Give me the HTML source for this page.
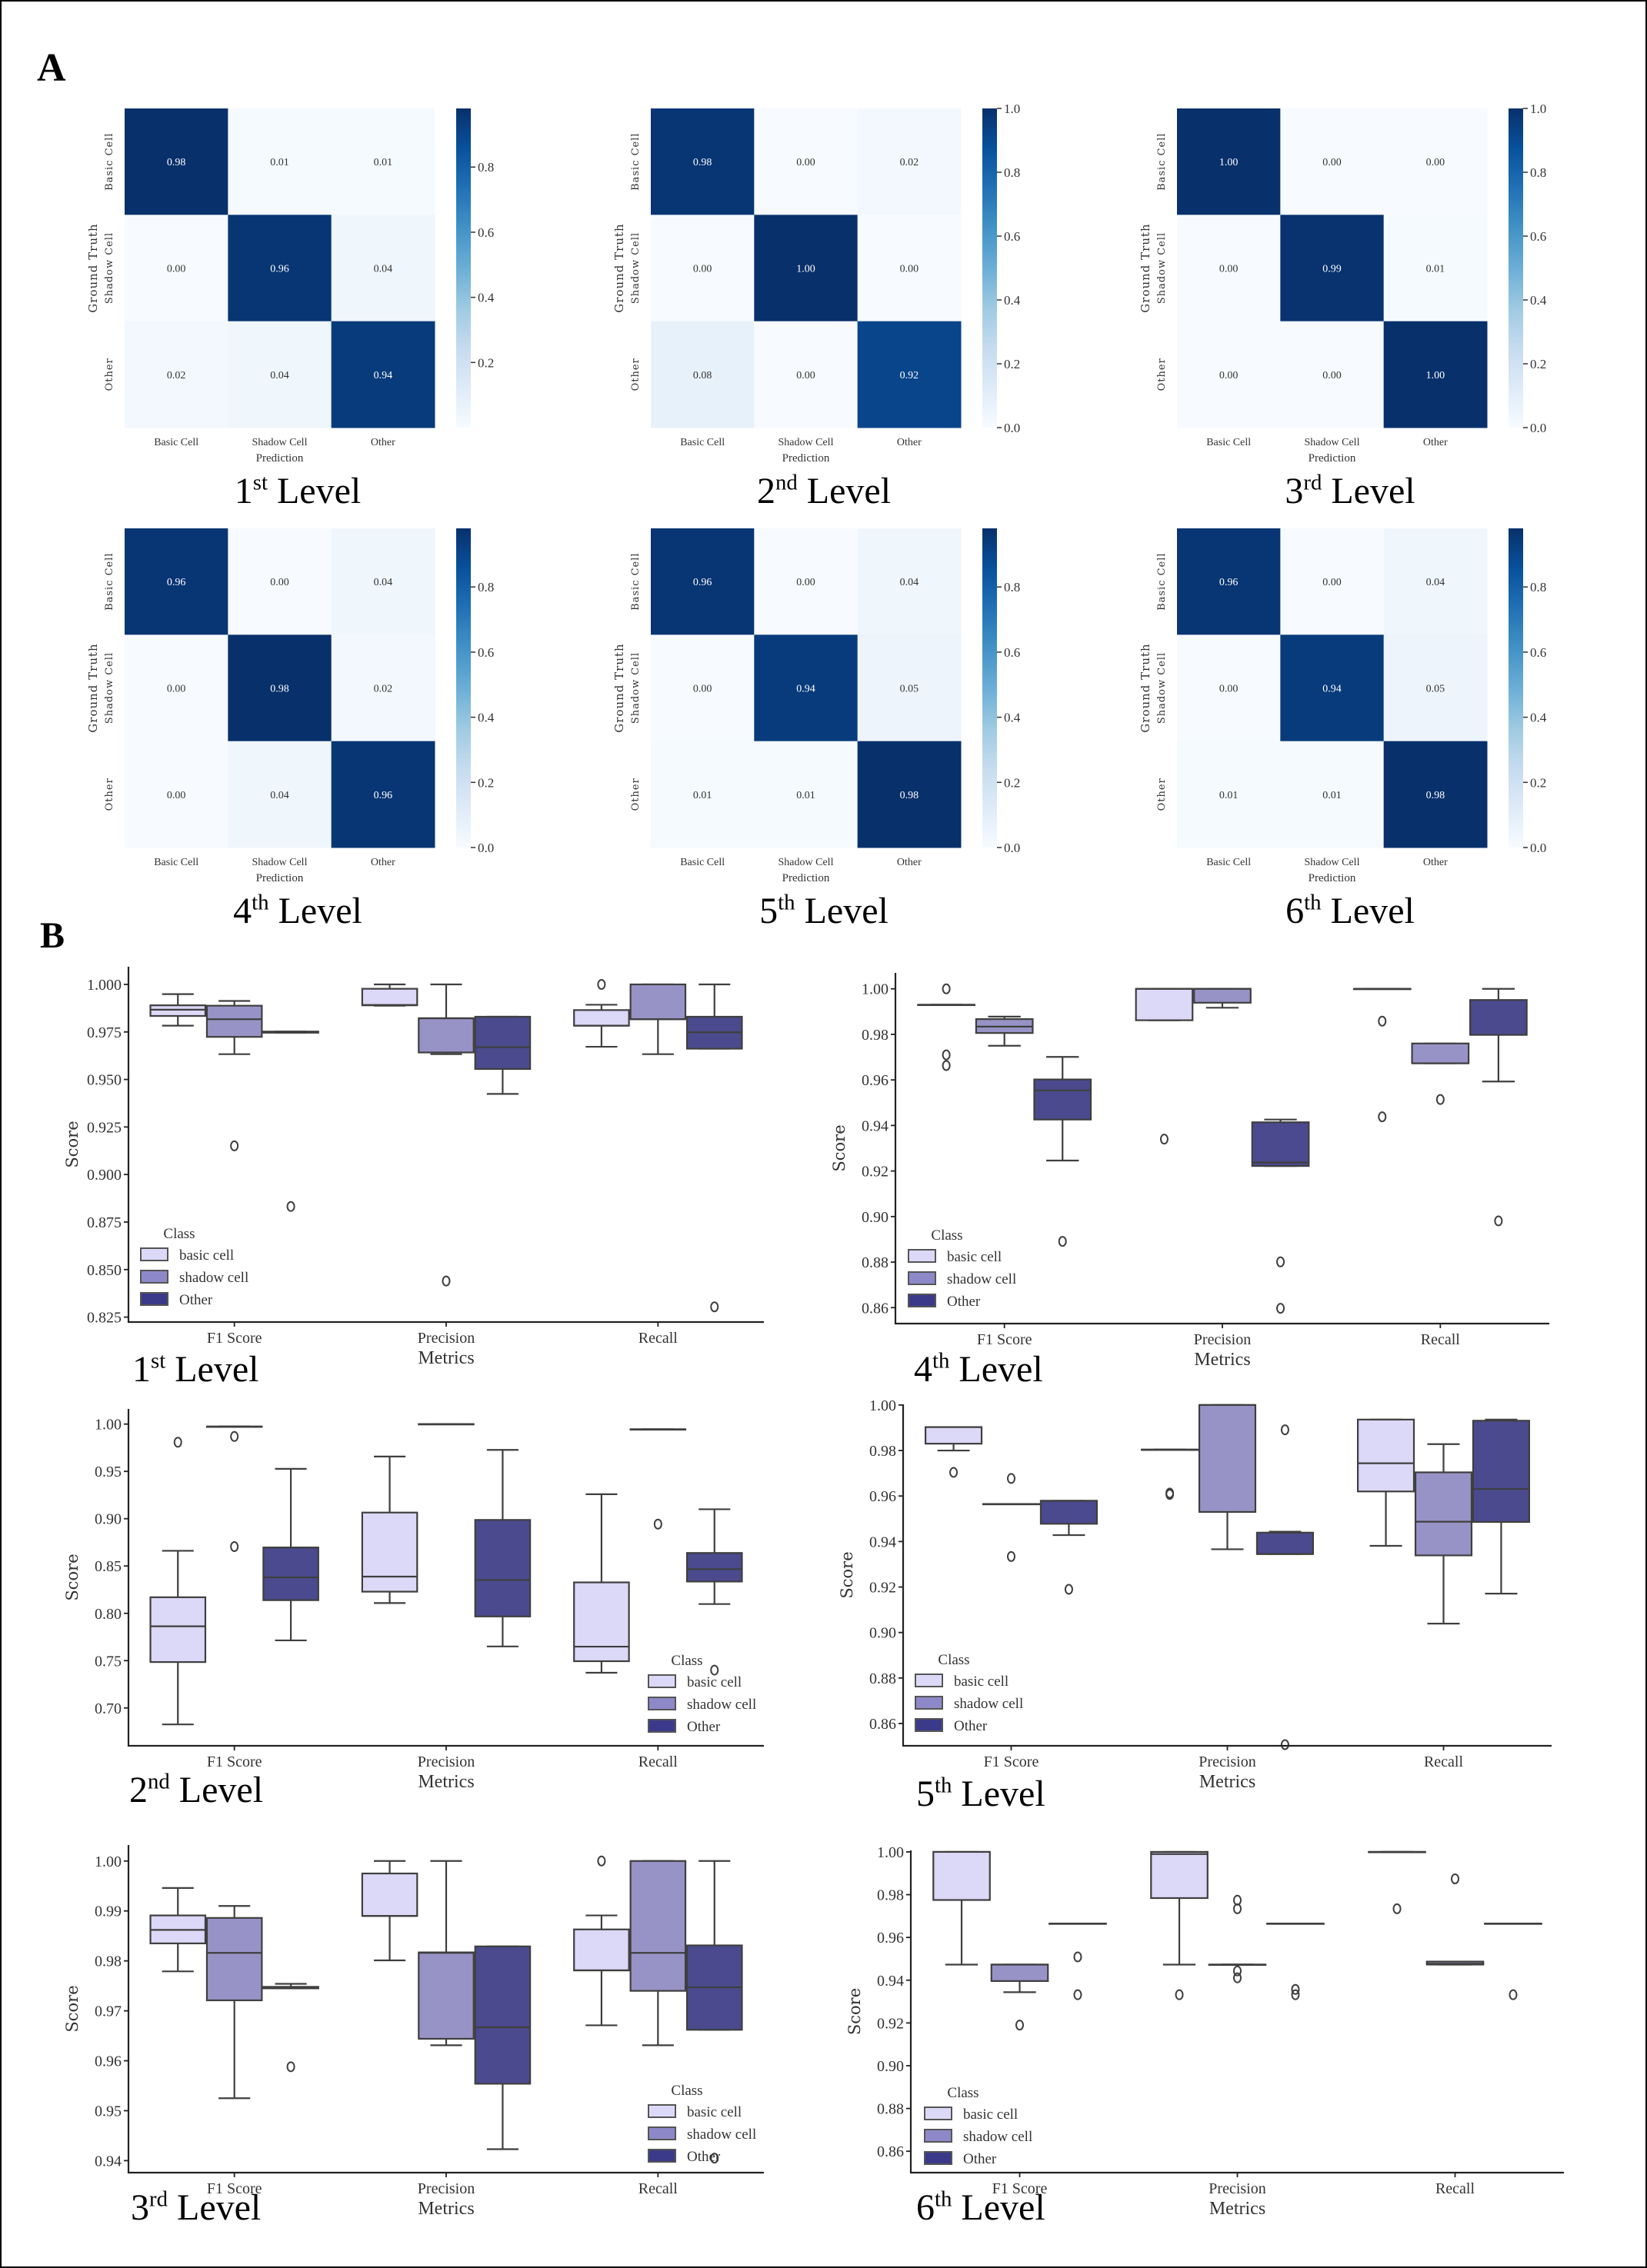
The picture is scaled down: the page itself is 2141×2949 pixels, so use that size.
<!DOCTYPE html>
<html><head><meta charset="utf-8"><style>
html,body{margin:0;padding:0;background:#fff;}
svg{display:block;}
text{font-family:"Liberation Serif",serif;}
</style></head><body>
<svg id="fig" xmlns="http://www.w3.org/2000/svg" width="2141" height="2949" viewBox="0 0 2141 2949">
<defs>
<linearGradient id="bluesGrad" x1="0" y1="1" x2="0" y2="0">
<stop offset="0" stop-color="#f7fbff"/><stop offset="0.125" stop-color="#deebf7"/><stop offset="0.25" stop-color="#c6dbef"/><stop offset="0.375" stop-color="#9ecae1"/><stop offset="0.5" stop-color="#6baed6"/><stop offset="0.625" stop-color="#4292c6"/><stop offset="0.75" stop-color="#2171b5"/><stop offset="0.875" stop-color="#08519c"/><stop offset="1" stop-color="#08306b"/>
</linearGradient>
</defs>
<rect x="1" y="1" width="2139" height="2947" fill="#fff" stroke="#000" stroke-width="2"/>
<text x="48" y="105" font-size="52" font-weight="bold">A</text>
<text x="52" y="1232" font-size="48" font-weight="bold">B</text>
<g id="heatmaps"></g>
<g id="boxplots"></g>
</svg>
<script>
// ---------- Heatmap data ----------
const hmClasses = ["Basic Cell", "Shadow Cell", "Other"];
const hm1Values = [[0.98,0.01,0.01],[0.00,0.96,0.04],[0.02,0.04,0.94]];
const hm2Values = [[0.98,0.00,0.02],[0.00,1.00,0.00],[0.08,0.00,0.92]];
const hm3Values = [[1.00,0.00,0.00],[0.00,0.99,0.01],[0.00,0.00,1.00]];
const hm4Values = [[0.96,0.00,0.04],[0.00,0.98,0.02],[0.00,0.04,0.96]];
const hm5Values = [[0.96,0.00,0.04],[0.00,0.94,0.05],[0.01,0.01,0.98]];
const hm6Values = [[0.96,0.00,0.04],[0.00,0.94,0.05],[0.01,0.01,0.98]];
const hmRanges = [[0,0.98],[0,1],[0,1],[0,0.98],[0,0.98],[0,0.98]];
const hmTicksA = [0.2,0.4,0.6,0.8];
const hmTicksB = [0.0,0.2,0.4,0.6,0.8,1.0];
const hmTicksC = [0.0,0.2,0.4,0.6,0.8];
const hmOrdinals = ["st","nd","rd","th","th","th"];

// ---------- Box plot data: [whislo, q1, median, q3, whishi] ----------
const metricNames = ["F1 Score","Precision","Recall"];
const classNames = ["basic cell","shadow cell","Other"];
const lvl1Stats = [[0.9783,0.9834,0.9867,0.989,0.9949],[0.9633,0.9724,0.9817,0.9888,0.9913],[0.9746,0.9746,0.9749,0.9752,0.9752],
 [0.9888,0.989,0.9892,0.9977,1.0],[0.9633,0.9642,0.9822,0.9822,1.0],[0.9424,0.9555,0.967,0.983,0.983],
 [0.9672,0.9783,0.9783,0.9865,0.9893],[0.9633,0.9817,0.9817,1.0,1.0],[0.9662,0.9662,0.9748,0.983,1.0]];
const lvl1Out = [[],[0.9151],[0.8832],[],[0.844],[],[1.0],[],[0.8304]];
const lvl2Stats = [[0.6826,0.7485,0.7863,0.817,0.8661],[0.9974,0.9974,0.9974,0.9974,0.9974],[0.7714,0.8139,0.838,0.8696,0.9527],
 [0.8109,0.8229,0.8388,0.9065,0.9657],[1,1,1,1,1],[0.765,0.7967,0.8353,0.8987,0.9727],
 [0.7372,0.7494,0.7648,0.8327,0.9259],[0.9945,0.9945,0.9945,0.9945,0.9945],[0.8098,0.8336,0.8467,0.8638,0.91]];
const lvl2Out = [[0.9808],[0.9869,0.8705],[],[],[],[],[],[0.8943],[0.74]];
const lvl3Stats = [[0.9779,0.9835,0.9862,0.9891,0.9946],[0.9525,0.9721,0.9816,0.9886,0.991],[0.9745,0.9745,0.9747,0.9748,0.9754],
 [0.9801,0.989,0.989,0.9975,1.0],[0.9631,0.9644,0.9816,0.9817,1.0],[0.9423,0.9554,0.9667,0.9829,0.9829],
 [0.9671,0.9781,0.9781,0.9863,0.9891],[0.9631,0.974,0.9816,1.0,1.0],[0.9662,0.9662,0.9747,0.9831,1.0]];
const lvl3Out = [[],[],[0.9588],[],[],[],[1.0],[],[0.9405]];
const lvl4Stats = [[0.993,0.993,0.993,0.993,0.993],[0.975,0.9806,0.9834,0.9867,0.9878],[0.9246,0.9426,0.9554,0.9602,0.9701],
 [0.9862,0.9862,1.0,1.0,1.0],[0.9917,0.9939,1.0,1.0,1.0],[0.9222,0.9222,0.9237,0.9414,0.9426],
 [1,1,1,1,1],[0.9673,0.9673,0.9673,0.976,0.976],[0.9593,0.9798,0.9798,0.9951,1.0]];
const lvl4Out = [[1.0,0.971,0.9663],[],[0.8891],[0.934],[],[0.8801,0.8597],[0.9858,0.9438],[0.9514],[0.8981]];
const lvl5Stats = [[0.98,0.983,0.9903,0.9903,0.9903],[0.9565,0.9565,0.9565,0.9565,0.9565],[0.9428,0.9478,0.9579,0.9579,0.9579],
 [0.9804,0.9804,0.9804,0.9804,0.9804],[0.9366,0.953,1.0,1.0,1.0],[0.9345,0.9345,0.9345,0.9439,0.9443],
 [0.9381,0.962,0.9744,0.9936,0.9936],[0.9039,0.9339,0.9487,0.9704,0.9828],[0.9171,0.9486,0.9631,0.9931,0.9936]];
const lvl5Out = [[0.9704],[0.9677,0.9334],[0.919],[0.9613,0.9607],[],[0.9891,0.8507],[],[],[]];
const lvl6Stats = [[0.9473,0.9775,1.0,1.0,1.0],[0.9344,0.9396,0.9473,0.9473,0.9473],[0.9665,0.9665,0.9665,0.9665,0.9665],
 [0.9473,0.9784,0.999,1.0,1.0],[0.9473,0.9473,0.9473,0.9473,0.9473],[0.9665,0.9665,0.9665,0.9665,0.9665],
 [1,1,1,1,1],[0.9473,0.9473,0.9477,0.9487,0.9487],[0.9665,0.9665,0.9665,0.9665,0.9665]];
const lvl6Out = [[],[0.919],[0.9509,0.9332],[0.9332],[0.9774,0.9734,0.9443,0.9411],[0.9357,0.9332],[0.9734],[0.9874],[0.9332]];
const ticks025 = [0.825,0.850,0.875,0.900,0.925,0.950,0.975,1.000];
const ticks05 = [0.70,0.75,0.80,0.85,0.90,0.95,1.00];
const ticks01 = [0.94,0.95,0.96,0.97,0.98,0.99,1.00];
const ticks02 = [0.86,0.88,0.90,0.92,0.94,0.96,0.98,1.00];

const NS = "http://www.w3.org/2000/svg";
function mk(tag, attrs, parent){ const e=document.createElementNS(NS,tag); for(const k in attrs) e.setAttribute(k,attrs[k]); parent.appendChild(e); return e; }
const blues = ["#f7fbff","#deebf7","#c6dbef","#9ecae1","#6baed6","#4292c6","#2171b5","#08519c","#08306b"];
function hex(c){ return [1,3,5].map(i=>parseInt(c.substr(i,2),16)); }
function bluesAt(t){ t=Math.max(0,Math.min(1,t)); const p=t*8, i=Math.min(7,Math.floor(p)), f=p-i; const a=hex(blues[i]), b=hex(blues[i+1]); return "rgb("+a.map((v,k)=>Math.round(v+(b[k]-v)*f)).join(",")+")"; }

function titleText(parent, x, y, num, ord, size, anchor){
  const t = mk("text",{x:x,y:y,"font-size":size,"text-anchor":anchor,fill:"#000"},parent);
  const a = mk("tspan",{},t); a.textContent = num;
  const b = mk("tspan",{"font-size":size*0.6,dy:-size*0.36},t); b.textContent = ord;
  const c = mk("tspan",{dy:size*0.36},t); c.textContent = " Level";
  return t;
}

// ---------- Heatmaps ----------
const hmAll = [hm1Values,hm2Values,hm3Values,hm4Values,hm5Values,hm6Values];
const hmTickSets = [hmTicksA,hmTicksB,hmTicksB,hmTicksC,hmTicksC,hmTicksC];
const hmCols = [162,846,1530], hmRows = [141,687];
const HW = 403, HH = 415;
const hg = document.getElementById("heatmaps");
hmAll.forEach((vals, idx)=>{
  const x0 = hmCols[idx%3], y0 = hmRows[Math.floor(idx/3)];
  const [vmin,vmax] = hmRanges[idx];
  const g = mk("g",{},hg);
  
  
  const cw = HW/3, ch = HH/3;
  for(let r=0;r<3;r++) for(let c=0;c<3;c++){
    const v = vals[r][c], t=(v-vmin)/(vmax-vmin);
    const cell = mk("rect",{x:x0+c*cw,y:y0+r*ch,width:cw+0.5,height:ch+0.5,fill:bluesAt(t)},g);
    
    
    const tx = mk("text",{x:x0+(c+0.5)*cw,y:y0+(r+0.5)*ch+5,"font-size":14,"text-anchor":"middle",fill:t>0.5?"#fff":"#333"},g);
    
    
    tx.textContent = v.toFixed(2);
  }
  hmClasses.forEach((nm,i)=>{
    const cx = x0+(i+0.5)*cw;
    const xl = mk("text",{x:cx,y:y0+HH+23,"font-size":14,"text-anchor":"middle",fill:"#333"},g);
    
    
    xl.textContent = nm;
    const cy = y0+(i+0.5)*ch;
    const yl = mk("text",{x:x0-16,y:cy,"font-size":13,"text-anchor":"middle","letter-spacing":"1",fill:"#333",transform:"rotate(-90 "+(x0-16)+" "+cy+")",style:"font-family:'DejaVu Serif',serif"},g);
    
    
    yl.textContent = nm;
  });
  const px = mk("text",{x:x0+HW/2,y:y0+HH+44,"font-size":15,"text-anchor":"middle",fill:"#333"},g);
  
  
  px.textContent = "Prediction";
  const gy = y0+HH/2, gx = x0-36;
  const gt = mk("text",{x:gx,y:gy,"font-size":15,"text-anchor":"middle","letter-spacing":"1",fill:"#333",transform:"rotate(-90 "+gx+" "+gy+")",style:"font-family:'DejaVu Serif',serif"},g);
  
  
  gt.textContent = "Ground Truth";
  // colorbar
  const cbx = x0+HW+28;
  const cb = mk("rect",{x:cbx,y:y0,width:19,height:HH,fill:"url(#bluesGrad)"},g);
  
  
  hmTickSets[idx].forEach(tv=>{
    const ty = y0+HH-(tv-vmin)/(vmax-vmin)*HH;
    mk("line",{x1:cbx+19,x2:cbx+25,y1:ty,y2:ty,stroke:"#333","stroke-width":1.5},g);
    const tl = mk("text",{x:cbx+28,y:ty+6,"font-size":17,fill:"#333"},g);
    
    
    tl.textContent = tv.toFixed(1);
  });
  const tt = titleText(g, x0+225, y0+HH+98, String(idx+1), hmOrdinals[idx], 48, "middle");
  
  
});

// ---------- Box plots ----------
const fills = ["#dcd8f7","#9893c6","#4b4a8e"];
const legFills = ["#dcd9f8","#8d89c8","#3b3a8a"];
const plots = [
 {n:1,stats:lvl1Stats,out:lvl1Out,L:167,R:993,T:1257,B:1719,ymin:0.8224,ymax:1.0093,ticks:ticks025,dec:3,leg:[183,1603],title:[172,1796]},
 {n:4,stats:lvl4Stats,out:lvl4Out,L:1164,R:2014,T:1265,B:1721,ymin:0.853,ymax:1.007,ticks:ticks02,dec:2,leg:[1181,1605],title:[1188,1796]},
 {n:2,stats:lvl2Stats,out:lvl2Out,L:167,R:993,T:1832,B:2270,ymin:0.660,ymax:1.016,ticks:ticks05,dec:2,leg:[843,2158],title:[168,2343]},
 {n:5,stats:lvl5Stats,out:lvl5Out,L:1174,R:2017,T:1826,B:2270,ymin:0.8502,ymax:1.0003,ticks:ticks02,dec:2,leg:[1190,2157],title:[1191,2348]},
 {n:3,stats:lvl3Stats,out:lvl3Out,L:167,R:993,T:2399,B:2825,ymin:0.9376,ymax:1.0032,ticks:ticks01,dec:2,leg:[843,2717],title:[170,2886]},
 {n:6,stats:lvl6Stats,out:lvl6Out,L:1184,R:2033,T:2406,B:2825,ymin:0.850,ymax:1.0007,ticks:ticks02,dec:2,leg:[1202,2720],title:[1191,2886]}
];
const ords = {1:"st",2:"nd",3:"rd",4:"th",5:"th",6:"th"};
const bg = document.getElementById("boxplots");
plots.forEach(p=>{
  const g = mk("g",{},bg);
  
  
  const yS = v => p.B - (v-p.ymin)/(p.ymax-p.ymin)*(p.B-p.T);
  const band = (p.R-p.L)/3;
  const xS = i => p.L + band*(i+0.5);
  const bw = band*0.8/3;
  // boxes
  p.stats.forEach((s,k)=>{
    const m = Math.floor(k/3), h = k%3;
    const cx = xS(m) + (h-1)*bw;
    const [lo,q1,md,q3,hi] = s;
    const bgp = mk("g",{},g);
    
    
    const st = {stroke:"#3f3f3f","stroke-width":2.2};
    mk("line",Object.assign({x1:cx,x2:cx,y1:yS(hi),y2:yS(q3)},st),bgp);
    mk("line",Object.assign({x1:cx,x2:cx,y1:yS(q1),y2:yS(lo)},st),bgp);
    mk("line",Object.assign({x1:cx-bw*0.28,x2:cx+bw*0.28,y1:yS(hi),y2:yS(hi)},st),bgp);
    mk("line",Object.assign({x1:cx-bw*0.28,x2:cx+bw*0.28,y1:yS(lo),y2:yS(lo)},st),bgp);
    mk("rect",Object.assign({x:cx-bw/2+1,y:yS(q3),width:bw-2,height:Math.max(0.5,yS(q1)-yS(q3)),fill:fills[h]},st),bgp);
    mk("line",Object.assign({x1:cx-bw/2+1,x2:cx+bw/2-1,y1:yS(md),y2:yS(md)},st),bgp);
    p.out[k].forEach(o=>{
      const c = mk("ellipse",{cx:cx,cy:yS(o),rx:4.5,ry:6,fill:"none",stroke:"#3f3f3f","stroke-width":2},bgp);
      
      
    });
  });
  // axes
  const ax = mk("path",{d:"M"+p.L+" "+p.T+" V"+p.B+" H"+p.R,fill:"none",stroke:"#222","stroke-width":2.2},g);
  
  
  p.ticks.forEach(t=>{
    const y = yS(t);
    mk("line",{x1:p.L-6,x2:p.L,y1:y,y2:y,stroke:"#222","stroke-width":1.8},g);
    const tl = mk("text",{x:p.L-9,y:y+7,"font-size":20,"text-anchor":"end",fill:"#333"},g);
    
    
    tl.textContent = t.toFixed(p.dec);
  });
  metricNames.forEach((nm,i)=>{
    const x = xS(i);
    mk("line",{x1:x,x2:x,y1:p.B,y2:p.B+6,stroke:"#222","stroke-width":1.8},g);
    const tl = mk("text",{x:x,y:p.B+27,"font-size":20,"text-anchor":"middle",fill:"#333"},g);
    
    
    tl.textContent = nm;
  });
  const xt = mk("text",{x:(p.L+p.R)/2,y:p.B+54,"font-size":24,"text-anchor":"middle",fill:"#333"},g);
  
  
  xt.textContent = "Metrics";
  const sy = (p.T+p.B)/2, sx = p.L-66;
  const yt = mk("text",{x:sx,y:sy,"font-size":21,"text-anchor":"middle",fill:"#333",transform:"rotate(-90 "+sx+" "+sy+")",style:"font-family:'DejaVu Serif',serif"},g);
  
  
  yt.textContent = "Score";
  // legend
  const lg = mk("g",{},g);
  
  
  const [lx,ly] = p.leg;
  const ct = mk("text",{x:lx+50,y:ly+7,"font-size":19,"text-anchor":"middle",fill:"#333"},lg);
  
  
  ct.textContent = "Class";
  classNames.forEach((nm,i)=>{
    const ey = ly + 28 + i*29;
    const e = mk("g",{},lg);
    
    
    mk("rect",{x:lx,y:ey-8,width:35,height:16,fill:legFills[i],stroke:"#555","stroke-width":2},e);
    const et = mk("text",{x:lx+50,y:ey+7,"font-size":19,fill:"#333"},e);
    et.textContent = nm;
  });
  const tt = titleText(g, p.title[0], p.title[1], String(p.n), ords[p.n], 48, "start");
  
  
});
</script>
</body></html>
